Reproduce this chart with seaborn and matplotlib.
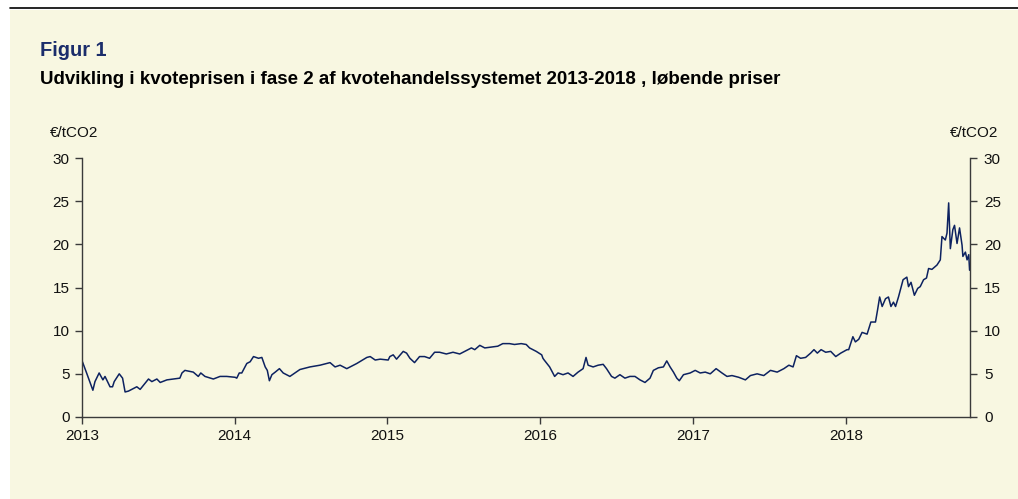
import matplotlib
matplotlib.use("Agg")
import matplotlib.pyplot as plt
import pandas as pd
import seaborn as sns
from matplotlib.patches import Rectangle
from matplotlib.lines import Line2D

# Kvotepris (EUA), EUR/tCO2
dates = [
    "2013-01-02", "2013-01-12", "2013-01-27", "2013-02-01", "2013-02-11", "2013-02-20",
    "2013-02-25", "2013-03-09", "2013-03-15", "2013-03-19", "2013-03-31", "2013-04-08",
    "2013-04-14", "2013-04-22", "2013-05-04", "2013-05-12", "2013-05-20", "2013-06-09",
    "2013-06-17", "2013-06-29", "2013-07-07", "2013-07-23", "2013-08-23", "2013-08-28",
    "2013-09-04", "2013-09-24", "2013-10-06", "2013-10-12", "2013-10-22", "2013-11-11",
    "2013-11-27", "2013-12-13",
    "2014-01-02", "2014-01-06", "2014-01-12", "2014-01-18", "2014-01-30", "2014-02-07",
    "2014-02-15", "2014-02-27", "2014-03-07", "2014-03-15", "2014-03-20", "2014-03-25",
    "2014-03-31", "2014-04-08", "2014-04-18", "2014-04-27", "2014-05-13", "2014-05-25",
    "2014-06-06", "2014-06-30", "2014-07-24", "2014-08-17", "2014-08-29", "2014-09-10",
    "2014-09-26", "2014-10-20", "2014-11-13", "2014-11-21", "2014-12-03", "2014-12-15",
    "2015-01-03", "2015-01-07", "2015-01-15", "2015-01-23", "2015-02-08", "2015-02-16",
    "2015-02-24", "2015-03-07", "2015-03-19", "2015-03-31", "2015-04-12", "2015-04-24",
    "2015-05-06", "2015-05-22", "2015-06-07", "2015-06-23", "2015-07-05", "2015-07-21",
    "2015-07-29", "2015-08-10", "2015-08-22", "2015-09-07", "2015-09-22", "2015-10-04",
    "2015-10-20", "2015-11-01", "2015-11-17", "2015-11-29", "2015-12-07", "2015-12-23",
    "2016-01-05", "2016-01-08", "2016-01-11", "2016-01-16", "2016-01-24", "2016-02-05",
    "2016-02-13", "2016-02-25", "2016-03-08", "2016-03-20", "2016-04-01", "2016-04-13",
    "2016-04-20", "2016-04-25", "2016-05-07", "2016-05-19", "2016-05-31", "2016-06-08",
    "2016-06-20", "2016-06-28", "2016-07-10", "2016-07-22", "2016-08-03", "2016-08-15",
    "2016-08-27", "2016-09-08", "2016-09-20", "2016-09-28", "2016-10-10", "2016-10-22",
    "2016-10-30", "2016-11-07", "2016-11-15", "2016-11-23", "2016-11-29", "2016-12-09",
    "2016-12-25",
    "2017-01-06", "2017-01-18", "2017-01-30", "2017-02-11", "2017-02-25", "2017-03-11",
    "2017-03-23", "2017-04-04", "2017-04-20", "2017-05-06", "2017-05-18", "2017-06-03",
    "2017-06-19", "2017-07-05", "2017-07-21", "2017-08-06", "2017-08-18", "2017-08-28",
    "2017-09-05", "2017-09-15", "2017-09-27", "2017-10-09", "2017-10-17", "2017-10-25",
    "2017-11-03", "2017-11-14", "2017-11-26", "2017-12-08", "2017-12-20",
    "2018-01-04", "2018-01-08", "2018-01-18", "2018-01-24", "2018-02-01", "2018-02-09",
    "2018-02-21", "2018-03-02", "2018-03-13", "2018-03-18", "2018-03-23", "2018-03-29",
    "2018-04-06", "2018-04-13", "2018-04-19", "2018-04-25", "2018-04-30", "2018-05-07",
    "2018-05-18", "2018-05-27", "2018-05-31", "2018-06-06", "2018-06-14", "2018-06-22",
    "2018-06-28", "2018-07-06", "2018-07-13", "2018-07-18", "2018-07-26", "2018-08-07",
    "2018-08-15", "2018-08-19", "2018-08-27", "2018-08-31", "2018-09-04", "2018-09-08",
    "2018-09-14", "2018-09-18", "2018-09-24", "2018-09-30", "2018-10-06", "2018-10-08",
    "2018-10-14", "2018-10-18", "2018-10-22", "2018-10-24",
]
prices = [
    6.4, 5.1, 3.1, 4.1, 5.1, 4.3,
    4.7, 3.5, 3.5, 4.1, 5.0, 4.5,
    2.9, 3.0, 3.3, 3.5, 3.2, 4.4,
    4.1, 4.4, 4.0, 4.3, 4.5, 5.1,
    5.4, 5.2, 4.7, 5.1, 4.7, 4.4,
    4.7, 4.7,
    4.6, 4.5, 5.1, 5.1, 6.2, 6.4,
    7.0, 6.8, 6.9, 5.8, 5.4, 4.2,
    4.9, 5.2, 5.6, 5.1, 4.7, 5.1,
    5.5, 5.8, 6.0, 6.3, 5.8, 6.0,
    5.6, 6.2, 6.9, 7.0, 6.6, 6.7,
    6.6, 7.0, 7.2, 6.7, 7.6, 7.4,
    6.8, 6.3, 7.0, 7.0, 6.8, 7.5,
    7.5, 7.3, 7.5, 7.3, 7.6, 8.0,
    7.8, 8.3, 8.0, 8.1, 8.2, 8.5,
    8.5, 8.4, 8.5, 8.4, 8.0, 7.6,
    7.2, 6.8, 6.6, 6.3, 5.8, 4.7,
    5.1, 4.9, 5.1, 4.7, 5.2, 5.6,
    6.9, 6.0, 5.8, 6.0, 6.1, 5.6,
    4.7, 4.5, 4.9, 4.5, 4.7, 4.7,
    4.3, 4.0, 4.5, 5.4, 5.7, 5.8,
    6.5, 5.8, 5.2, 4.5, 4.2, 4.9,
    5.1,
    5.4, 5.1, 5.2, 5.0, 5.6, 5.1,
    4.7, 4.8, 4.6, 4.3, 4.8, 5.0,
    4.8, 5.4, 5.2, 5.6, 6.0, 5.8,
    7.1, 6.8, 6.9, 7.4, 7.8, 7.4,
    7.8, 7.5, 7.6, 7.0, 7.4,
    7.8, 7.8, 9.3, 8.7, 9.0, 9.8,
    9.6, 11.0, 11.0, 12.4, 13.9, 12.8,
    13.7, 13.9, 12.8, 13.3, 12.8, 13.9,
    15.9, 16.2, 15.1, 15.6, 14.1, 14.9,
    15.1, 15.9, 16.1, 17.2, 17.1, 17.6,
    18.2, 20.9, 20.5, 21.3, 24.8, 19.5,
    21.7, 22.2, 20.1, 21.9, 19.9, 18.6,
    19.1, 18.2, 18.8, 17.0,
]
year_labels = ["2013", "2014", "2015", "2016", "2017", "2018"]
y_ticks = [0, 5, 10, 15, 20, 25, 30]

df = pd.DataFrame({"date": pd.to_datetime(dates), "price": prices})

sns.set_style("ticks")
plt.rcParams["font.family"] = ["Liberation Sans", "DejaVu Sans"]

bg = "#f8f7e1"
navy = "#0d2260"
axcol = "#3a3a3a"

fig = plt.figure(figsize=(10.18, 4.99), dpi=100)
fig.patch.set_facecolor("white")
fig.patches.append(Rectangle((10 / 1018, 0), 1 - 10 / 1018, 1 - 10 / 499,
                             transform=fig.transFigure, facecolor=bg,
                             edgecolor="none", zorder=-10))
fig.lines.append(Line2D([10 / 1018, 1], [1 - 8 / 499, 1 - 8 / 499],
                        transform=fig.transFigure, color="black", lw=1.2))

ax = fig.add_axes([82 / 1018, 1 - 417 / 499, (970 - 82) / 1018, (417 - 158) / 499])
ax.set_facecolor("none")
sns.lineplot(data=df, x="date", y="price", ax=ax, color=navy, linewidth=1.1)

ax.set_xlim(pd.Timestamp("2013-01-01"), pd.Timestamp("2018-10-25"))
ax.set_ylim(0, 30)
ax.set_xticks([pd.Timestamp(y + "-01-01") for y in year_labels])
ax.set_xticklabels(year_labels)
ax.set_yticks(y_ticks)
ax.set_xlabel("")
ax.set_ylabel("")
for s in ["top", "right"]:
    ax.spines[s].set_visible(False)
for s in ["left", "bottom"]:
    ax.spines[s].set_color(axcol)
    ax.spines[s].set_linewidth(1.0)
ax.tick_params(axis="both", direction="out", length=5, width=1.0, color=axcol,
               labelsize=11, labelcolor="#111111", pad=4)

ax2 = ax.twinx()
ax2.set_facecolor("none")
ax2.set_ylim(0, 30)
ax2.set_yticks(y_ticks)
for s in ["top", "left", "bottom"]:
    ax2.spines[s].set_visible(False)
ax2.spines["right"].set_visible(True)
ax2.spines["right"].set_color(axcol)
ax2.spines["right"].set_linewidth(1.0)
ax2.tick_params(axis="y", direction="out", length=5, width=1.0, color=axcol,
                labelsize=11, labelcolor="#111111", pad=5)

fig.text(40 / 1018, 1 - 56 / 499, "Figur 1", fontsize=14.4, fontweight="bold",
         color="#1b2d6b", va="baseline")
fig.text(40 / 1018, 1 - 84 / 499,
         "Udvikling i kvoteprisen i fase 2 af kvotehandelssystemet 2013-2018 , løbende priser",
         fontsize=13.5, fontweight="bold", color="black", va="baseline")
fig.text(50 / 1018, 1 - 137 / 499, "€/tCO2", fontsize=11, color="#111111", va="baseline")
fig.text(998 / 1018, 1 - 137 / 499, "€/tCO2", fontsize=11, color="#111111",
         va="baseline", ha="right")

fig.savefig("out.png", dpi=100, facecolor=fig.get_facecolor())
